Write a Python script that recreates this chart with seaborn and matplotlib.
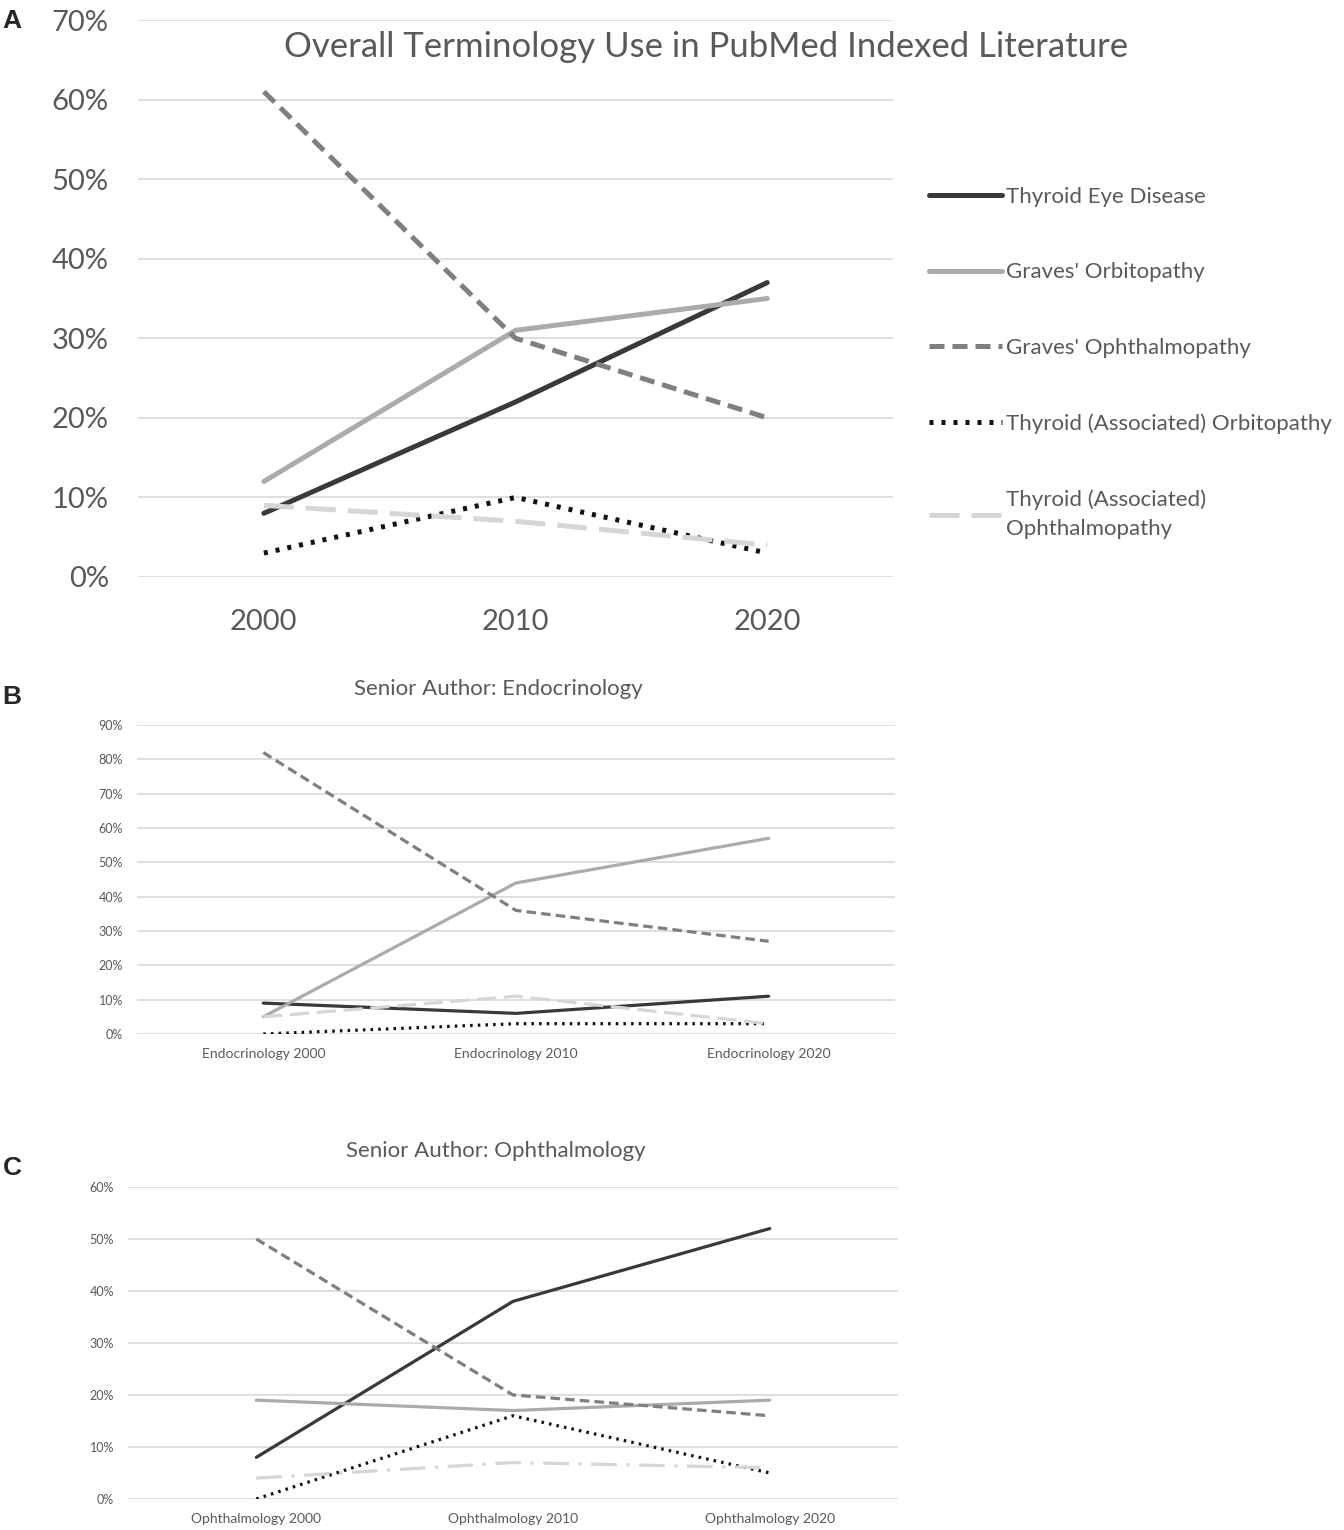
import matplotlib
matplotlib.use("Agg")
import matplotlib.pyplot as plt
import seaborn as sns
import pandas as pd
from matplotlib.lines import Line2D
from matplotlib.ticker import PercentFormatter

# -------------------------------
# Data (percent of papers)
# -------------------------------
terms = [
    "Thyroid Eye Disease",
    "Graves' Orbitopathy",
    "Graves' Ophthalmopathy",
    "Thyroid (Associated) Orbitopathy",
    "Thyroid (Associated) Ophthalmopathy",
]
years = ["2000", "2010", "2020"]
endo_labels = ["Endocrinology 2000", "Endocrinology 2010", "Endocrinology 2020"]
ophth_labels = ["Ophthalmology 2000", "Ophthalmology 2010", "Ophthalmology 2020"]

overall_ted = [8, 22, 37]
overall_go = [12, 31, 35]
overall_gop = [61, 30, 20]
overall_tao = [3, 10, 3]
overall_taop = [9, 7, 4]

endo_ted = [9, 6, 11]
endo_go = [5, 44, 57]
endo_gop = [82, 36, 27]
endo_tao = [0, 3, 3]
endo_taop = [5, 11, 3]

ophth_ted = [8, 38, 52]
ophth_go = [19, 17, 19]
ophth_gop = [50, 20, 16]
ophth_tao = [0, 16, 5]
ophth_taop = [4, 7, 6]

colors = ["#3b3838", "#ababab", "#7f7f7f", "#111111", "#d6d6d6"]

sns.set_theme(style="white")
plt.rcParams["font.family"] = ["Lato", "DejaVu Sans"]
GRID = "#d9d9d9"
TXT = "#595959"


def long_table(cats, series):
    rows = []
    for term, vals in zip(terms, series):
        for c, v in zip(cats, vals):
            rows.append({"term": term, "cat": c, "value": v})
    return pd.DataFrame(rows)


def draw(ax, cats, series, ymax, ystep, lw, dashes, tick_fs, xtick_fs):
    df = long_table(cats, series)
    for term, col, d in zip(terms, colors, dashes):
        sub = df[df["term"] == term]
        sns.lineplot(data=sub, x="cat", y="value", ax=ax, color=col,
                     linewidth=lw, legend=False, sort=False)
        l = ax.lines[-1]
        if d is not None:
            l.set_dashes(d)
        l.set_dash_capstyle("butt")
    ax.set_xlim(-0.5, 2.5)
    ax.set_ylim(0, ymax)
    ax.set_yticks(range(0, ymax + 1, ystep))
    ax.yaxis.set_major_formatter(PercentFormatter(decimals=0))
    ax.grid(axis="y", color=GRID, linewidth=1.2)
    ax.set_axisbelow(True)
    for s in ax.spines.values():
        s.set_visible(False)
    ax.tick_params(axis="y", labelsize=tick_fs, colors=TXT, length=0, pad=10)
    ax.tick_params(axis="x", labelsize=xtick_fs, colors=TXT, length=0, pad=10)
    ax.set_xlabel("")
    ax.set_ylabel("")


fig = plt.figure(figsize=(13.44, 15.3), dpi=100)

# -------------------------------
# A: Overall
# -------------------------------
axA = fig.add_axes([0.1027, 0.6229, 0.5618, 0.364])
dashA = [None, None, (3, 1.6), (0.8, 1.6), (6, 2.4)]
draw(axA, years, [overall_ted, overall_go, overall_gop, overall_tao, overall_taop],
     70, 10, 3.6, dashA, 21, 21)
axA.tick_params(axis="x", pad=23)
axA.tick_params(axis="y", pad=21)
fig.text(0.525, 0.969, "Overall Terminology Use in PubMed Indexed Literature",
         ha="center", va="center", fontsize=25, color=TXT)

handles = []
for col, d in zip(colors, dashA):
    h = Line2D([0], [0], color=col, linewidth=3.6, dash_capstyle="butt")
    if d is not None:
        h.set_dashes(d)
    handles.append(h)
leg_labels = terms[:4] + ["Thyroid (Associated)\nOphthalmopathy"]
leg = fig.legend(handles, leg_labels, loc="upper left", bbox_to_anchor=(0.676, 0.891),
                 frameon=False, fontsize=16, labelcolor=TXT, handlelength=3.3,
                 handletextpad=0.2, labelspacing=2.5)
for t in leg.get_texts():
    t.set_linespacing(1.55)

# -------------------------------
# B: Endocrinology
# -------------------------------
axB = fig.add_axes([0.1019, 0.3242, 0.564, 0.2019])
dashB = [None, None, (3, 1.6), (0.8, 1.6), (6, 2.4)]
draw(axB, endo_labels, [endo_ted, endo_go, endo_gop, endo_tao, endo_taop],
     90, 10, 2.3, dashB, 9, 10)
fig.text(0.371, 0.5497, "Senior Author: Endocrinology", ha="center", va="center",
         fontsize=16, color=TXT)

# -------------------------------
# C: Ophthalmology
# -------------------------------
axC = fig.add_axes([0.0952, 0.0203, 0.573, 0.2039])
dashC = [None, None, (3, 1.6), (0.8, 1.6), (8, 3, 1, 3)]
draw(axC, ophth_labels, [ophth_ted, ophth_go, ophth_gop, ophth_tao, ophth_taop],
     60, 10, 2.3, dashC, 9, 10)
fig.text(0.369, 0.2477, "Senior Author: Ophthalmology", ha="center", va="center",
         fontsize=16, color=TXT)

# panel letters
for lab, y in [("A", 0.9865), ("B", 0.5445), ("C", 0.2365)]:
    fig.text(0.002, y, lab, fontsize=19, fontweight="bold", family="Liberation Sans",
             va="center", ha="left")

fig.savefig("out.png", dpi=100)
